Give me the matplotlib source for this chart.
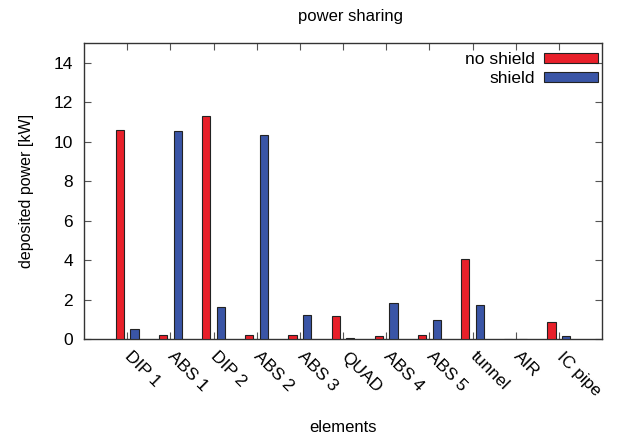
import matplotlib
matplotlib.use("Agg")
import matplotlib.pyplot as plt
import numpy as np
from matplotlib.patches import Patch

plt.rcParams['font.family'] = ['Liberation Sans', 'DejaVu Sans']

categories = ["DIP 1", "ABS 1", "DIP 2", "ABS 2", "ABS 3", "QUAD", "ABS 4", "ABS 5", "tunnel", "AIR", "IC pipe"]
no_shield = [10.61, 0.19, 11.32, 0.19, 0.19, 1.15, 0.17, 0.19, 4.03, 0.02, 0.84]
shield = [0.52, 10.54, 1.62, 10.36, 1.20, 0.03, 1.80, 0.98, 1.70, 0.02, 0.13]
yticks = [0, 2, 4, 6, 8, 10, 12, 14]

red = "#e8202a"
blue = "#3a55a6"
fs = 12.5

fig = plt.figure(figsize=(6.23, 4.37), dpi=100)
ax = fig.add_axes([84/623, 1 - 339/437, (602-84)/623, (339-43)/437])

x = np.arange(len(categories))
w = 0.19
ax.bar(x - 0.17, no_shield, width=w, color=red, edgecolor="#222222", linewidth=0.8, zorder=3)
ax.bar(x + 0.17, shield, width=w, color=blue, edgecolor="#222222", linewidth=0.8, zorder=3)

ax.set_xlim(-1, 11)
ax.set_ylim(0, 15)
ax.set_yticks(yticks)
ax.set_xticks(x)
ax.set_xticklabels(categories, rotation=-45, rotation_mode='anchor', ha='left', va='center', fontsize=fs)
ax.tick_params(axis='both', direction='in', top=True, right=True, length=5, width=0.8, color="#555555", labelsize=fs)
ax.tick_params(axis='x', pad=11)
ax.tick_params(axis='y', pad=8)
for s in ax.spines.values():
    s.set_linewidth(1.0)
    s.set_color("#333333")

ax.set_ylabel("deposited power [kW]", fontsize=11.5, labelpad=14)
fig.text(343/623, 1 - 427/437, "elements", ha='center', va='center', fontsize=12)
fig.text(351/623, 1 - 17/437, "power sharing", ha='center', va='center', fontsize=12)

handles = [Patch(facecolor=red, edgecolor="#222222", linewidth=0.8),
           Patch(facecolor=blue, edgecolor="#222222", linewidth=0.8)]
leg = ax.legend(handles, ["no shield", "shield"], loc='upper right', markerfirst=False,
                frameon=False, fontsize=fs, handlelength=3.1, handleheight=0.48,
                labelspacing=0.2, borderpad=0.0, borderaxespad=0.0, handletextpad=0.5,
                bbox_to_anchor=((597.5 - 84) / 518, 1 - 9.5 / 296))
for t in leg.get_texts():
    t.set_ha('right')

fig.savefig("out.png", dpi=100)
